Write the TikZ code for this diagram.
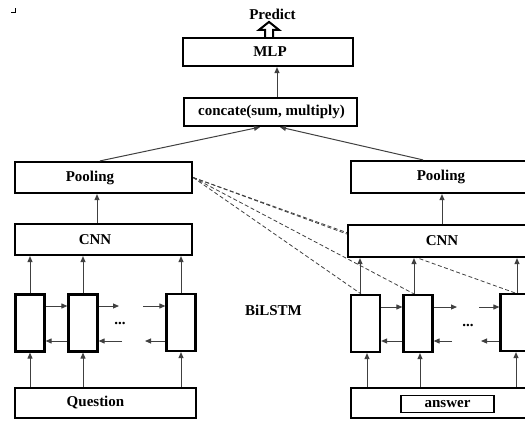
\documentclass[tikz,border=0pt]{standalone}
\usepackage{fontspec}
\setmainfont{Liberation Serif}
\usetikzlibrary{arrows.meta,backgrounds}
\begin{document}
\begin{tikzpicture}[x=1pt,y=-1pt,
  box/.style={draw=black,line width=2.2pt,fill=white,inner sep=0pt,font=\fontsize{15}{18}\selectfont\bfseries},
  cell/.style={draw=black,line width=2.2pt,fill=white,inner sep=0pt,minimum width=29pt,minimum height=57pt},
  conn/.style={draw=black!75,line width=1pt,-{Triangle[length=6pt,width=5pt]},shorten >=0pt},
  dashln/.style={draw=black!75,line width=0.8pt,dash pattern=on 4pt off 2.5pt},
  lbl/.style={font=\fontsize{15}{18}\selectfont\bfseries,inner sep=0pt}]
\useasboundingbox (0,0) rectangle (525,421);
\clip (0,0) rectangle (525,421);
% corner mark
\draw[line width=1pt] (11,12) -- (15,12) -- (15,8);
% top
\node[lbl] (pred) at (272.5,14) {Predict};
\node[box,minimum width=170pt,minimum height=28pt] (mlp) at (268,52) {};
\node[lbl] (mlpt) at (270,52) {MLP};
\node[box,minimum width=173pt,minimum height=28pt] (cat) at (270.5,112) {};
\node[lbl] (catt) at (271.5,112) {concate(sum, multiply)};
% left column
\node[box,minimum width=177pt,minimum height=31pt] (poolL) at (103.5,177.5) {};
\node[lbl] (poolLt) at (90,177.5) {Pooling};
\node[box,minimum width=177pt,minimum height=31pt] (cnnL) at (103.5,239.5) {};
\node[lbl] (cnnLt) at (95,239.5) {CNN};
\node[cell] (l1) at (30,323) {};
\node[cell] (l2) at (83,323) {};
\node[cell] (l3) at (181,322.5) {};
\node[box,minimum width=181pt,minimum height=30pt] (q) at (105.5,403) {};
\node[lbl] (qt) at (95.5,403) {Question};
\node[lbl] (dotsL) at (120,323) {...};
% right column
\node[box,minimum width=180pt,minimum height=32pt] (poolR) at (441,177) {};
\node[lbl] (poolRt) at (441,177) {Pooling};
\node[box,minimum width=188pt,minimum height=32pt] (cnnR) at (442,241) {};
\node[lbl] (cnnRt) at (442,241) {CNN};
\node[cell] (r1) at (365.5,323.5) {};
\node[cell] (r2) at (418,323.5) {};
\node[cell] (r3) at (515,322.5) {};
\node[box,minimum width=192pt,minimum height=30pt] (a) at (447,403) {};
\node[box,line width=1.8pt,minimum width=93pt,minimum height=17pt] (ans) at (447.5,404) {answer};
\node[lbl] (dotsR) at (468,325) {...};
\node[lbl] (bilstm) at (273.5,310) {BiLSTM};
% dashed attention lines (behind boxes)
\begin{scope}[on background layer]
\draw[dashln] (poolL.east) -- ([yshift=7pt]cnnR.west);
\draw[dashln] (poolL.east) -- ([xshift=-4.5pt]r1.north);
\draw[dashln] (poolL.east) -- ([xshift=-4pt]r2.north);
\draw[dashln] (poolL.east) -- (r3.north);
\end{scope}
% hollow arrow to Predict
\draw[line width=2pt,fill=white,line join=miter] ([xshift=1pt]mlp.north) ++(-4,0) -- ++(0,-7) -- ++(-6,0) -- ++(10,-8) -- ++(10,8) -- ++(-6,0) -- ++(0,7);
% top connectors
\draw[conn] ([xshift=9pt]mlp.south |- cat.north) -- ([xshift=9pt]mlp.south);
\draw[conn] ([xshift=-3.5pt]poolL.north) -- ([xshift=-10.5pt]cat.south);
\draw[conn] ([xshift=-18pt]poolR.north) -- ([xshift=9.5pt]cat.south);
% left vertical connectors
\draw[conn] ([xshift=-6.5pt]cnnL.north) -- ([xshift=-6.5pt]poolL.south);
\foreach \c in {l1,l2,l3}{
  \draw[conn] (\c.north) -- (\c.north |- cnnL.south);
  \draw[conn] (\c.south |- q.north) -- (\c.south);
}
% left horizontal connectors
\coordinate (lA) at (119,306);
\coordinate (lB) at (143,306);
\coordinate (lC) at (122,341);
\coordinate (lD) at (145,341);
\draw[conn] (l1.east |- lA) -- (l2.west |- lA);
\draw[conn] (l2.east |- lA) -- (lA);
\draw[conn] (lB) -- (l3.west |- lB);
\draw[conn] (l2.west |- lC) -- (l1.east |- lC);
\draw[conn] (lC) -- (l2.east |- lC);
\draw[conn] (l3.west |- lD) -- (lD);
% right vertical connectors
\draw[conn] (cnnR.north) -- (cnnR.north |- poolR.south);
\draw[conn] ([xshift=-5.5pt]r1.north) -- ([xshift=-5.5pt]r1.north |- cnnR.south);
\draw[conn] ([xshift=-4pt]r2.north) -- ([xshift=-4pt]r2.north |- cnnR.south);
\draw[conn] ([xshift=2pt]r3.north) -- ([xshift=2pt]r3.north |- cnnR.south);
\draw[conn] ([xshift=1.5pt]r1.south |- a.north) -- ([xshift=1.5pt]r1.south);
\draw[conn] ([xshift=2pt]r2.south |- a.north) -- ([xshift=2pt]r2.south);
\draw[conn] ([xshift=1pt]r3.south |- a.north) -- ([xshift=1pt]r3.south);
% right horizontal connectors
\coordinate (rA) at (457,307);
\coordinate (rB) at (479,307);
\coordinate (rC) at (452,341);
\coordinate (rD) at (481,341);
\draw[conn] (r1.east |- rA) -- (r2.west |- rA);
\draw[conn] (r2.east |- rA) -- (rA);
\draw[conn] (rB) -- (r3.west |- rB);
\draw[conn] (r2.west |- rC) -- (r1.east |- rC);
\draw[conn] (rC) -- (r2.east |- rC);
\draw[conn] (r3.west |- rD) -- (rD);
\end{tikzpicture}
\end{document}
